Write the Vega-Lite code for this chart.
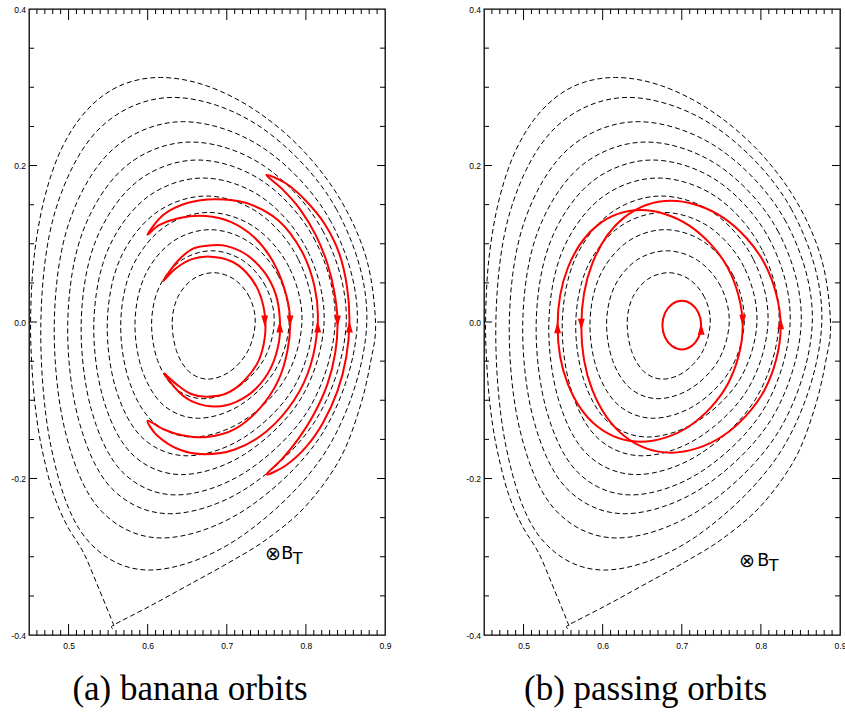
{
  "$schema": "https://vega.github.io/schema/vega-lite/v6.json",
  "background": "white",
  "padding": {"left": 10, "top": 4, "right": 0, "bottom": 0},
  "config": {
    "view": {"stroke": "black", "strokeWidth": 1.3},
    "axis": {"domain": false, "grid": false, "ticks": false, "labelFont": "Liberation Sans", "labelFontSize": 8.5, "labelColor": "black", "labelFlush": false, "tickCount": 1000}
  },
  "datasets": {
    "xmaj": [{"v":0.5},{"v":0.6},{"v":0.7},{"v":0.8}],
    "xmin": [{"v":0.46},{"v":0.47},{"v":0.48},{"v":0.49},{"v":0.51},{"v":0.52},{"v":0.53},{"v":0.54},{"v":0.55},{"v":0.56},{"v":0.57},{"v":0.58},{"v":0.59},{"v":0.61},{"v":0.62},{"v":0.63},{"v":0.64},{"v":0.65},{"v":0.66},{"v":0.67},{"v":0.68},{"v":0.69},{"v":0.71},{"v":0.72},{"v":0.73},{"v":0.74},{"v":0.75},{"v":0.76},{"v":0.77},{"v":0.78},{"v":0.79},{"v":0.81},{"v":0.82},{"v":0.83},{"v":0.84},{"v":0.85},{"v":0.86},{"v":0.87},{"v":0.88},{"v":0.89}],
    "ymaj": [{"v":-0.2},{"v":0},{"v":0.2}],
    "ymin": [{"v":-0.35},{"v":-0.3},{"v":-0.25},{"v":-0.15},{"v":-0.1},{"v":-0.05},{"v":0.05},{"v":0.1},{"v":0.15},{"v":0.25},{"v":0.3},{"v":0.35}],
    "contours": [
      {"c":1,"i":0,"x":0.736,"y":0},{"c":1,"i":1,"x":0.7288,"y":0.0315},{"c":1,"i":2,"x":0.7094,"y":0.0546},{"c":1,"i":3,"x":0.683,"y":0.063},{"c":1,"i":4,"x":0.6569,"y":0.0546},{"c":1,"i":5,"x":0.6379,"y":0.0315},{"c":1,"i":6,"x":0.631,"y":0},{"c":1,"i":7,"x":0.6363,"y":-0.0365},{"c":1,"i":8,"x":0.652,"y":-0.0632},{"c":1,"i":9,"x":0.6762,"y":-0.073},{"c":1,"i":10,"x":0.7041,"y":-0.0632},{"c":1,"i":11,"x":0.727,"y":-0.0365},
      {"c":2,"i":0,"x":0.76,"y":0},{"c":2,"i":1,"x":0.7492,"y":0.0455},{"c":2,"i":2,"x":0.7201,"y":0.0788},{"c":2,"i":3,"x":0.681,"y":0.091},{"c":2,"i":4,"x":0.6426,"y":0.0788},{"c":2,"i":5,"x":0.615,"y":0.0455},{"c":2,"i":6,"x":0.605,"y":0},{"c":2,"i":7,"x":0.6125,"y":-0.049},{"c":2,"i":8,"x":0.6349,"y":-0.0849},{"c":2,"i":9,"x":0.6702,"y":-0.098},{"c":2,"i":10,"x":0.7116,"y":-0.0849},{"c":2,"i":11,"x":0.7463,"y":-0.049},
      {"c":3,"i":0,"x":0.779,"y":0},{"c":3,"i":1,"x":0.7653,"y":0.059},{"c":3,"i":2,"x":0.7282,"y":0.1022},{"c":3,"i":3,"x":0.6789,"y":0.118},{"c":3,"i":4,"x":0.6308,"y":0.1022},{"c":3,"i":5,"x":0.5964,"y":0.059},{"c":3,"i":6,"x":0.584,"y":0},{"c":3,"i":7,"x":0.593,"y":-0.0615},{"c":3,"i":8,"x":0.6202,"y":-0.1065},{"c":3,"i":9,"x":0.664,"y":-0.123},{"c":3,"i":10,"x":0.7166,"y":-0.1065},{"c":3,"i":11,"x":0.7612,"y":-0.0615},
      {"c":4,"i":0,"x":0.795,"y":0},{"c":4,"i":1,"x":0.7788,"y":0.07},{"c":4,"i":2,"x":0.7351,"y":0.1212},{"c":4,"i":3,"x":0.6771,"y":0.14},{"c":4,"i":4,"x":0.6207,"y":0.1212},{"c":4,"i":5,"x":0.5805,"y":0.07},{"c":4,"i":6,"x":0.566,"y":0},{"c":4,"i":7,"x":0.576,"y":-0.0735},{"c":4,"i":8,"x":0.6065,"y":-0.1273},{"c":4,"i":9,"x":0.657,"y":-0.147},{"c":4,"i":10,"x":0.7191,"y":-0.1273},{"c":4,"i":11,"x":0.7732,"y":-0.0735},
      {"c":5,"i":0,"x":0.809,"y":0},{"c":5,"i":1,"x":0.7903,"y":0.0805},{"c":5,"i":2,"x":0.7402,"y":0.1394},{"c":5,"i":3,"x":0.6741,"y":0.161},{"c":5,"i":4,"x":0.6103,"y":0.1394},{"c":5,"i":5,"x":0.5651,"y":0.0805},{"c":5,"i":6,"x":0.549,"y":0},{"c":5,"i":7,"x":0.5598,"y":-0.0855},{"c":5,"i":8,"x":0.5934,"y":-0.1481},{"c":5,"i":9,"x":0.65,"y":-0.171},{"c":5,"i":10,"x":0.7209,"y":-0.1481},{"c":5,"i":11,"x":0.7836,"y":-0.0855},
      {"c":6,"i":0,"x":0.823,"y":0},{"c":6,"i":1,"x":0.8016,"y":0.092},{"c":6,"i":2,"x":0.7445,"y":0.1593},{"c":6,"i":3,"x":0.6699,"y":0.184},{"c":6,"i":4,"x":0.5991,"y":0.1593},{"c":6,"i":5,"x":0.5496,"y":0.092},{"c":6,"i":6,"x":0.532,"y":0},{"c":6,"i":7,"x":0.5437,"y":-0.0975},{"c":6,"i":8,"x":0.5803,"y":-0.1689},{"c":6,"i":9,"x":0.6429,"y":-0.195},{"c":6,"i":10,"x":0.7226,"y":-0.1689},{"c":6,"i":11,"x":0.7939,"y":-0.0975},
      {"c":7,"i":0,"x":0.837,"y":0},{"c":7,"i":1,"x":0.812,"y":0.1035},{"c":7,"i":2,"x":0.7464,"y":0.1793},{"c":7,"i":3,"x":0.663,"y":0.207},{"c":7,"i":4,"x":0.5864,"y":0.1793},{"c":7,"i":5,"x":0.5342,"y":0.1035},{"c":7,"i":6,"x":0.516,"y":0},{"c":7,"i":7,"x":0.5284,"y":-0.1105},{"c":7,"i":8,"x":0.5678,"y":-0.1914},{"c":7,"i":9,"x":0.636,"y":-0.221},{"c":7,"i":10,"x":0.7243,"y":-0.1914},{"c":7,"i":11,"x":0.8042,"y":-0.1105},
      {"c":8,"i":0,"x":0.851,"y":0},{"c":8,"i":1,"x":0.8222,"y":0.115},{"c":8,"i":2,"x":0.7475,"y":0.1992},{"c":8,"i":3,"x":0.655,"y":0.23},{"c":8,"i":4,"x":0.5725,"y":0.1992},{"c":8,"i":5,"x":0.5178,"y":0.115},{"c":8,"i":6,"x":0.499,"y":0},{"c":8,"i":7,"x":0.5121,"y":-0.1225},{"c":8,"i":8,"x":0.5541,"y":-0.2122},{"c":8,"i":9,"x":0.6281,"y":-0.245},{"c":8,"i":10,"x":0.7253,"y":-0.2122},{"c":8,"i":11,"x":0.8142,"y":-0.1225},
      {"c":9,"i":0,"x":0.865,"y":0},{"c":9,"i":1,"x":0.8317,"y":0.128},{"c":9,"i":2,"x":0.747,"y":0.2217},{"c":9,"i":3,"x":0.6449,"y":0.256},{"c":9,"i":4,"x":0.5571,"y":0.2217},{"c":9,"i":5,"x":0.5009,"y":0.128},{"c":9,"i":6,"x":0.482,"y":0},{"c":9,"i":7,"x":0.4954,"y":-0.138},{"c":9,"i":8,"x":0.5391,"y":-0.239},{"c":9,"i":9,"x":0.618,"y":-0.276},{"c":9,"i":10,"x":0.7244,"y":-0.239},{"c":9,"i":11,"x":0.8235,"y":-0.138},
      {"c":10,"i":0,"x":0.877,"y":0},{"c":10,"i":1,"x":0.8389,"y":0.1435},{"c":10,"i":2,"x":0.7436,"y":0.2485},{"c":10,"i":3,"x":0.6323,"y":0.287},{"c":10,"i":4,"x":0.5403,"y":0.2485},{"c":10,"i":5,"x":0.4837,"y":0.1435},{"c":10,"i":6,"x":0.465,"y":0},{"c":10,"i":7,"x":0.4777,"y":-0.1585},{"c":10,"i":8,"x":0.5204,"y":-0.2745},{"c":10,"i":9,"x":0.602,"y":-0.317},{"c":10,"i":10,"x":0.7175,"y":-0.2745},{"c":10,"i":11,"x":0.8293,"y":-0.1585},
      {"c":11,"i":0,"x":0.888,"y":0},{"c":11,"i":1,"x":0.8765,"y":0.0809},{"c":11,"i":2,"x":0.8437,"y":0.1563},{"c":11,"i":3,"x":0.7947,"y":0.221},{"c":11,"i":4,"x":0.736,"y":0.2706},{"c":11,"i":5,"x":0.6744,"y":0.3019},{"c":11,"i":6,"x":0.6161,"y":0.3125},{"c":11,"i":7,"x":0.5649,"y":0.3019},{"c":11,"i":8,"x":0.5231,"y":0.2706},{"c":11,"i":9,"x":0.4909,"y":0.221},{"c":11,"i":10,"x":0.4691,"y":0.1563},{"c":11,"i":11,"x":0.4562,"y":0.0809},{"c":11,"i":12,"x":0.452,"y":0},{"c":11,"i":13,"x":0.4545,"y":-0.07},{"c":11,"i":14,"x":0.46,"y":-0.125},{"c":11,"i":15,"x":0.468,"y":-0.17},{"c":11,"i":16,"x":0.481,"y":-0.22},{"c":11,"i":17,"x":0.498,"y":-0.26},{"c":11,"i":18,"x":0.519,"y":-0.295},{"c":11,"i":19,"x":0.538,"y":-0.34},{"c":11,"i":20,"x":0.557,"y":-0.387},{"c":11,"i":21,"x":0.557,"y":-0.387},{"c":11,"i":22,"x":0.603,"y":-0.363},{"c":11,"i":23,"x":0.65,"y":-0.337},{"c":11,"i":24,"x":0.7,"y":-0.309},{"c":11,"i":25,"x":0.75,"y":-0.278},{"c":11,"i":26,"x":0.8,"y":-0.235},{"c":11,"i":27,"x":0.843,"y":-0.175},{"c":11,"i":28,"x":0.868,"y":-0.11},{"c":11,"i":29,"x":0.882,"y":-0.05}
    ],
    "banana": [
      {"o":"A","i":0,"x":0.62,"y":0.053},{"o":"A","i":1,"x":0.635,"y":0.068},{"o":"A","i":2,"x":0.655,"y":0.08},{"o":"A","i":3,"x":0.679,"y":0.0835},{"o":"A","i":4,"x":0.705,"y":0.078},{"o":"A","i":5,"x":0.725,"y":0.063},{"o":"A","i":6,"x":0.74,"y":0.04},{"o":"A","i":7,"x":0.748,"y":0.01},{"o":"A","i":8,"x":0.748,"y":-0.02},{"o":"A","i":9,"x":0.74,"y":-0.05},{"o":"A","i":10,"x":0.722,"y":-0.075},{"o":"A","i":11,"x":0.7,"y":-0.091},{"o":"A","i":12,"x":0.675,"y":-0.0955},{"o":"A","i":13,"x":0.655,"y":-0.092},{"o":"A","i":14,"x":0.637,"y":-0.08},{"o":"A","i":15,"x":0.621,"y":-0.066},{"o":"A","i":16,"x":0.64,"y":-0.09},{"o":"A","i":17,"x":0.66,"y":-0.103},{"o":"A","i":18,"x":0.686,"y":-0.108},{"o":"A","i":19,"x":0.712,"y":-0.102},{"o":"A","i":20,"x":0.737,"y":-0.085},{"o":"A","i":21,"x":0.756,"y":-0.058},{"o":"A","i":22,"x":0.766,"y":-0.025},{"o":"A","i":23,"x":0.767,"y":0.005},{"o":"A","i":24,"x":0.762,"y":0.035},{"o":"A","i":25,"x":0.748,"y":0.063},{"o":"A","i":26,"x":0.725,"y":0.086},{"o":"A","i":27,"x":0.7,"y":0.097},{"o":"A","i":28,"x":0.681,"y":0.098},{"o":"A","i":29,"x":0.658,"y":0.094},{"o":"A","i":30,"x":0.638,"y":0.078},
      {"o":"B","i":0,"x":0.6,"y":0.112},{"o":"B","i":1,"x":0.615,"y":0.124},{"o":"B","i":2,"x":0.64,"y":0.133},{"o":"B","i":3,"x":0.673,"y":0.1355},{"o":"B","i":4,"x":0.705,"y":0.128},{"o":"B","i":5,"x":0.735,"y":0.108},{"o":"B","i":6,"x":0.758,"y":0.078},{"o":"B","i":7,"x":0.773,"y":0.042},{"o":"B","i":8,"x":0.78,"y":0.005},{"o":"B","i":9,"x":0.777,"y":-0.035},{"o":"B","i":10,"x":0.765,"y":-0.075},{"o":"B","i":11,"x":0.742,"y":-0.11},{"o":"B","i":12,"x":0.71,"y":-0.137},{"o":"B","i":13,"x":0.675,"y":-0.147},{"o":"B","i":14,"x":0.645,"y":-0.145},{"o":"B","i":15,"x":0.62,"y":-0.137},{"o":"B","i":16,"x":0.6,"y":-0.126},{"o":"B","i":17,"x":0.612,"y":-0.145},{"o":"B","i":18,"x":0.64,"y":-0.163},{"o":"B","i":19,"x":0.672,"y":-0.169},{"o":"B","i":20,"x":0.71,"y":-0.163},{"o":"B","i":21,"x":0.75,"y":-0.14},{"o":"B","i":22,"x":0.785,"y":-0.1},{"o":"B","i":23,"x":0.806,"y":-0.055},{"o":"B","i":24,"x":0.815,"y":0},{"o":"B","i":25,"x":0.811,"y":0.045},{"o":"B","i":26,"x":0.795,"y":0.09},{"o":"B","i":27,"x":0.765,"y":0.13},{"o":"B","i":28,"x":0.725,"y":0.152},{"o":"B","i":29,"x":0.685,"y":0.157},{"o":"B","i":30,"x":0.65,"y":0.152},{"o":"B","i":31,"x":0.62,"y":0.137},
      {"o":"C","i":0,"x":0.75,"y":0.188},{"o":"C","i":1,"x":0.77,"y":0.17},{"o":"C","i":2,"x":0.792,"y":0.145},{"o":"C","i":3,"x":0.812,"y":0.112},{"o":"C","i":4,"x":0.827,"y":0.075},{"o":"C","i":5,"x":0.836,"y":0.038},{"o":"C","i":6,"x":0.84,"y":0},{"o":"C","i":7,"x":0.837,"y":-0.04},{"o":"C","i":8,"x":0.827,"y":-0.08},{"o":"C","i":9,"x":0.81,"y":-0.118},{"o":"C","i":10,"x":0.79,"y":-0.15},{"o":"C","i":11,"x":0.77,"y":-0.175},{"o":"C","i":12,"x":0.75,"y":-0.195},{"o":"C","i":13,"x":0.775,"y":-0.183},{"o":"C","i":14,"x":0.8,"y":-0.16},{"o":"C","i":15,"x":0.822,"y":-0.128},{"o":"C","i":16,"x":0.84,"y":-0.088},{"o":"C","i":17,"x":0.851,"y":-0.045},{"o":"C","i":18,"x":0.855,"y":0},{"o":"C","i":19,"x":0.852,"y":0.045},{"o":"C","i":20,"x":0.842,"y":0.088},{"o":"C","i":21,"x":0.824,"y":0.125},{"o":"C","i":22,"x":0.8,"y":0.155},{"o":"C","i":23,"x":0.775,"y":0.177}
    ],
    "passing": [
      {"o":"P1","i":0,"x":0.777,"y":-0.005},{"o":"P1","i":1,"x":0.7583,"y":0.069},{"o":"P1","i":2,"x":0.7095,"y":0.1232},{"o":"P1","i":3,"x":0.6483,"y":0.143},{"o":"P1","i":4,"x":0.593,"y":0.1232},{"o":"P1","i":5,"x":0.5559,"y":0.069},{"o":"P1","i":6,"x":0.543,"y":-0.005},{"o":"P1","i":7,"x":0.5559,"y":-0.079},{"o":"P1","i":8,"x":0.593,"y":-0.1332},{"o":"P1","i":9,"x":0.6483,"y":-0.153},{"o":"P1","i":10,"x":0.7095,"y":-0.1332},{"o":"P1","i":11,"x":0.7583,"y":-0.079},
      {"o":"P2","i":0,"x":0.825,"y":-0.006},{"o":"P2","i":1,"x":0.8048,"y":0.0745},{"o":"P2","i":2,"x":0.7523,"y":0.1334},{"o":"P2","i":3,"x":0.6864,"y":0.155},{"o":"P2","i":4,"x":0.6269,"y":0.1334},{"o":"P2","i":5,"x":0.5868,"y":0.0745},{"o":"P2","i":6,"x":0.573,"y":-0.006},{"o":"P2","i":7,"x":0.5868,"y":-0.0865},{"o":"P2","i":8,"x":0.6269,"y":-0.1454},{"o":"P2","i":9,"x":0.6864,"y":-0.167},{"o":"P2","i":10,"x":0.7523,"y":-0.1454},{"o":"P2","i":11,"x":0.8048,"y":-0.0865},
      {"o":"P3","i":0,"x":0.7245,"y":-0.004},{"o":"P3","i":1,"x":0.7212,"y":0.0115},{"o":"P3","i":2,"x":0.7123,"y":0.0228},{"o":"P3","i":3,"x":0.7,"y":0.027},{"o":"P3","i":4,"x":0.6878,"y":0.0228},{"o":"P3","i":5,"x":0.6788,"y":0.0115},{"o":"P3","i":6,"x":0.6755,"y":-0.004},{"o":"P3","i":7,"x":0.6788,"y":-0.0195},{"o":"P3","i":8,"x":0.6878,"y":-0.0308},{"o":"P3","i":9,"x":0.7,"y":-0.035},{"o":"P3","i":10,"x":0.7123,"y":-0.0308},{"o":"P3","i":11,"x":0.7212,"y":-0.0195}
    ],
    "arrows_a": [
      {"x":0.748,"y":0.001,"dir":"down"},{"x":0.767,"y":-0.006,"dir":"up"},{"x":0.78,"y":0.001,"dir":"down"},{"x":0.815,"y":-0.006,"dir":"up"},{"x":0.84,"y":0.001,"dir":"down"},{"x":0.855,"y":-0.006,"dir":"up"}
    ],
    "arrows_b": [
      {"x":0.543,"y":-0.007,"dir":"up"},{"x":0.573,"y":-0.003,"dir":"down"},{"x":0.777,"y":0.002,"dir":"down"},{"x":0.825,"y":-0.002,"dir":"up"},{"x":0.7245,"y":-0.009,"dir":"up"}
    ],
    "label_a": [{"x":0.7482,"y":-0.297,"t":"⊗","part":"op"},{"x":0.769,"y":-0.297,"t":"B","part":"main"},{"x":0.7835,"y":-0.303,"t":"T","part":"sub"}],
    "label_b": [{"x":0.7722,"y":-0.306,"t":"⊗","part":"op"},{"x":0.7955,"y":-0.306,"t":"B","part":"main"},{"x":0.81,"y":-0.312,"t":"T","part":"sub"}]
  },
  "hconcat": [
    {
      "width": 356, "height": 626,
      "title": {"text": "(a) banana orbits", "orient": "bottom", "anchor": "middle", "frame": "group", "dx": -17, "offset": 22, "font": "Liberation Serif", "fontSize": 35, "fontWeight": "normal", "color": "black"},
      "resolve": {"axis": {"x": "independent", "y": "independent"}},
      "layer": [
        {"data": {"name": "contours"},
         "mark": {"type": "line", "interpolate": "cardinal-closed", "stroke": "black", "strokeWidth": 1, "strokeDash": [5, 3]},
         "encoding": {
           "x": {"field": "x", "type": "quantitative", "scale": {"domain": [0.45, 0.9], "nice": false, "zero": false}, "axis": {"orient": "bottom", "title": null, "values": [0.5, 0.6, 0.7, 0.8, 0.9], "format": ".1f", "ticks": false, "labelPadding": 6}},
           "y": {"field": "y", "type": "quantitative", "scale": {"domain": [-0.4, 0.4], "nice": false, "zero": false}, "axis": {"orient": "left", "title": null, "values": [-0.4, -0.2, 0, 0.2, 0.4], "labelExpr": "datum.value < 0 ? '-' + format(-datum.value, '.1f') : format(datum.value, '.1f')", "ticks": false, "labelPadding": 3.5}},
           "detail": {"field": "c", "type": "nominal"},
           "order": {"field": "i", "type": "quantitative"}
         }},
        {"data": {"name": "banana"},
         "mark": {"type": "line", "interpolate": "cardinal-closed", "stroke": "#ff0000", "strokeWidth": 2},
         "encoding": {
           "x": {"field": "x", "type": "quantitative", "scale": {"domain": [0.45, 0.9], "nice": false, "zero": false}, "axis": null},
           "y": {"field": "y", "type": "quantitative", "scale": {"domain": [-0.4, 0.4], "nice": false, "zero": false}, "axis": null},
           "detail": {"field": "o", "type": "nominal"},
           "order": {"field": "i", "type": "quantitative"}
         }},
        {"data": {"name": "arrows_a"},
         "mark": {"type": "point", "filled": true, "color": "#ff0000", "opacity": 1, "size": 130, "strokeWidth": 0},
         "encoding": {
           "x": {"field": "x", "type": "quantitative", "scale": {"domain": [0.45, 0.9], "nice": false, "zero": false}, "axis": null},
           "y": {"field": "y", "type": "quantitative", "scale": {"domain": [-0.4, 0.4], "nice": false, "zero": false}, "axis": null},
           "shape": {"field": "dir", "type": "nominal", "scale": {"domain": ["up", "down"], "range": ["M-0.6,1L0.6,1L0,-1Z", "M-0.6,-1L0.6,-1L0,1Z"]}, "legend": null}
         }},
        {"data": {"name": "label_a"},
         "mark": {"type": "text", "font": "DejaVu Sans", "align": "left", "baseline": "middle", "color": "black"},
         "encoding": {
           "x": {"field": "x", "type": "quantitative", "scale": {"domain": [0.45, 0.9], "nice": false, "zero": false}, "axis": null},
           "y": {"field": "y", "type": "quantitative", "scale": {"domain": [-0.4, 0.4], "nice": false, "zero": false}, "axis": null},
           "text": {"field": "t", "type": "nominal"},
           "size": {"field": "part", "type": "ordinal", "scale": {"domain": ["op", "main", "sub"], "range": [19, 16, 9]}, "legend": null}
         }},
        {"data": {"name": "xmaj"}, "mark": {"type": "tick", "orient": "vertical", "size": 11, "thickness": 1, "color": "black", "opacity": 1},
         "encoding": {"x": {"field": "v", "type": "quantitative", "scale": {"domain": [0.45, 0.9], "nice": false, "zero": false}, "axis": null}, "y": {"datum": -0.39297, "type": "quantitative", "scale": {"domain": [-0.4, 0.4], "nice": false, "zero": false}, "axis": null}}},
        {"data": {"name": "xmaj"}, "mark": {"type": "tick", "orient": "vertical", "size": 11, "thickness": 1, "color": "black", "opacity": 1},
         "encoding": {"x": {"field": "v", "type": "quantitative", "scale": {"domain": [0.45, 0.9], "nice": false, "zero": false}, "axis": null}, "y": {"datum": 0.39297, "type": "quantitative", "scale": {"domain": [-0.4, 0.4], "nice": false, "zero": false}, "axis": null}}},
        {"data": {"name": "xmin"}, "mark": {"type": "tick", "orient": "vertical", "size": 5, "thickness": 1, "color": "black", "opacity": 1},
         "encoding": {"x": {"field": "v", "type": "quantitative", "scale": {"domain": [0.45, 0.9], "nice": false, "zero": false}, "axis": null}, "y": {"datum": -0.3968, "type": "quantitative", "scale": {"domain": [-0.4, 0.4], "nice": false, "zero": false}, "axis": null}}},
        {"data": {"name": "xmin"}, "mark": {"type": "tick", "orient": "vertical", "size": 5, "thickness": 1, "color": "black", "opacity": 1},
         "encoding": {"x": {"field": "v", "type": "quantitative", "scale": {"domain": [0.45, 0.9], "nice": false, "zero": false}, "axis": null}, "y": {"datum": 0.3968, "type": "quantitative", "scale": {"domain": [-0.4, 0.4], "nice": false, "zero": false}, "axis": null}}},
        {"data": {"name": "ymaj"}, "mark": {"type": "tick", "orient": "horizontal", "size": 8, "thickness": 1, "color": "black", "opacity": 1},
         "encoding": {"y": {"field": "v", "type": "quantitative", "scale": {"domain": [-0.4, 0.4], "nice": false, "zero": false}, "axis": null}, "x": {"datum": 0.45505, "type": "quantitative", "scale": {"domain": [0.45, 0.9], "nice": false, "zero": false}, "axis": null}}},
        {"data": {"name": "ymaj"}, "mark": {"type": "tick", "orient": "horizontal", "size": 8, "thickness": 1, "color": "black", "opacity": 1},
         "encoding": {"y": {"field": "v", "type": "quantitative", "scale": {"domain": [-0.4, 0.4], "nice": false, "zero": false}, "axis": null}, "x": {"datum": 0.89495, "type": "quantitative", "scale": {"domain": [0.45, 0.9], "nice": false, "zero": false}, "axis": null}}},
        {"data": {"name": "ymin"}, "mark": {"type": "tick", "orient": "horizontal", "size": 5, "thickness": 1, "color": "black", "opacity": 1},
         "encoding": {"y": {"field": "v", "type": "quantitative", "scale": {"domain": [-0.4, 0.4], "nice": false, "zero": false}, "axis": null}, "x": {"datum": 0.45316, "type": "quantitative", "scale": {"domain": [0.45, 0.9], "nice": false, "zero": false}, "axis": null}}},
        {"data": {"name": "ymin"}, "mark": {"type": "tick", "orient": "horizontal", "size": 5, "thickness": 1, "color": "black", "opacity": 1},
         "encoding": {"y": {"field": "v", "type": "quantitative", "scale": {"domain": [-0.4, 0.4], "nice": false, "zero": false}, "axis": null}, "x": {"datum": 0.89684, "type": "quantitative", "scale": {"domain": [0.45, 0.9], "nice": false, "zero": false}, "axis": null}}}
      ]
    },
    {
      "width": 356, "height": 626,
      "title": {"text": "(b) passing orbits", "orient": "bottom", "anchor": "middle", "frame": "group", "dx": -16.5, "offset": 22, "font": "Liberation Serif", "fontSize": 35, "fontWeight": "normal", "color": "black"},
      "resolve": {"axis": {"x": "independent", "y": "independent"}},
      "layer": [
        {"data": {"name": "contours"},
         "mark": {"type": "line", "interpolate": "cardinal-closed", "stroke": "black", "strokeWidth": 1, "strokeDash": [5, 3]},
         "encoding": {
           "x": {"field": "x", "type": "quantitative", "scale": {"domain": [0.45, 0.9], "nice": false, "zero": false}, "axis": {"orient": "bottom", "title": null, "values": [0.5, 0.6, 0.7, 0.8, 0.9], "format": ".1f", "ticks": false, "labelPadding": 6}},
           "y": {"field": "y", "type": "quantitative", "scale": {"domain": [-0.4, 0.4], "nice": false, "zero": false}, "axis": {"orient": "left", "title": null, "values": [-0.4, -0.2, 0, 0.2, 0.4], "labelExpr": "datum.value < 0 ? '-' + format(-datum.value, '.1f') : format(datum.value, '.1f')", "ticks": false, "labelPadding": 3.5}},
           "detail": {"field": "c", "type": "nominal"},
           "order": {"field": "i", "type": "quantitative"}
         }},
        {"data": {"name": "passing"},
         "mark": {"type": "line", "interpolate": "cardinal-closed", "stroke": "#ff0000", "strokeWidth": 2},
         "encoding": {
           "x": {"field": "x", "type": "quantitative", "scale": {"domain": [0.45, 0.9], "nice": false, "zero": false}, "axis": null},
           "y": {"field": "y", "type": "quantitative", "scale": {"domain": [-0.4, 0.4], "nice": false, "zero": false}, "axis": null},
           "detail": {"field": "o", "type": "nominal"},
           "order": {"field": "i", "type": "quantitative"}
         }},
        {"data": {"name": "arrows_b"},
         "mark": {"type": "point", "filled": true, "color": "#ff0000", "opacity": 1, "size": 130, "strokeWidth": 0},
         "encoding": {
           "x": {"field": "x", "type": "quantitative", "scale": {"domain": [0.45, 0.9], "nice": false, "zero": false}, "axis": null},
           "y": {"field": "y", "type": "quantitative", "scale": {"domain": [-0.4, 0.4], "nice": false, "zero": false}, "axis": null},
           "shape": {"field": "dir", "type": "nominal", "scale": {"domain": ["up", "down"], "range": ["M-0.6,1L0.6,1L0,-1Z", "M-0.6,-1L0.6,-1L0,1Z"]}, "legend": null}
         }},
        {"data": {"name": "label_b"},
         "mark": {"type": "text", "font": "DejaVu Sans", "align": "left", "baseline": "middle", "color": "black"},
         "encoding": {
           "x": {"field": "x", "type": "quantitative", "scale": {"domain": [0.45, 0.9], "nice": false, "zero": false}, "axis": null},
           "y": {"field": "y", "type": "quantitative", "scale": {"domain": [-0.4, 0.4], "nice": false, "zero": false}, "axis": null},
           "text": {"field": "t", "type": "nominal"},
           "size": {"field": "part", "type": "ordinal", "scale": {"domain": ["op", "main", "sub"], "range": [19, 16, 9]}, "legend": null}
         }},
        {"data": {"name": "xmaj"}, "mark": {"type": "tick", "orient": "vertical", "size": 11, "thickness": 1, "color": "black", "opacity": 1},
         "encoding": {"x": {"field": "v", "type": "quantitative", "scale": {"domain": [0.45, 0.9], "nice": false, "zero": false}, "axis": null}, "y": {"datum": -0.39297, "type": "quantitative", "scale": {"domain": [-0.4, 0.4], "nice": false, "zero": false}, "axis": null}}},
        {"data": {"name": "xmaj"}, "mark": {"type": "tick", "orient": "vertical", "size": 11, "thickness": 1, "color": "black", "opacity": 1},
         "encoding": {"x": {"field": "v", "type": "quantitative", "scale": {"domain": [0.45, 0.9], "nice": false, "zero": false}, "axis": null}, "y": {"datum": 0.39297, "type": "quantitative", "scale": {"domain": [-0.4, 0.4], "nice": false, "zero": false}, "axis": null}}},
        {"data": {"name": "xmin"}, "mark": {"type": "tick", "orient": "vertical", "size": 5, "thickness": 1, "color": "black", "opacity": 1},
         "encoding": {"x": {"field": "v", "type": "quantitative", "scale": {"domain": [0.45, 0.9], "nice": false, "zero": false}, "axis": null}, "y": {"datum": -0.3968, "type": "quantitative", "scale": {"domain": [-0.4, 0.4], "nice": false, "zero": false}, "axis": null}}},
        {"data": {"name": "xmin"}, "mark": {"type": "tick", "orient": "vertical", "size": 5, "thickness": 1, "color": "black", "opacity": 1},
         "encoding": {"x": {"field": "v", "type": "quantitative", "scale": {"domain": [0.45, 0.9], "nice": false, "zero": false}, "axis": null}, "y": {"datum": 0.3968, "type": "quantitative", "scale": {"domain": [-0.4, 0.4], "nice": false, "zero": false}, "axis": null}}},
        {"data": {"name": "ymaj"}, "mark": {"type": "tick", "orient": "horizontal", "size": 8, "thickness": 1, "color": "black", "opacity": 1},
         "encoding": {"y": {"field": "v", "type": "quantitative", "scale": {"domain": [-0.4, 0.4], "nice": false, "zero": false}, "axis": null}, "x": {"datum": 0.45505, "type": "quantitative", "scale": {"domain": [0.45, 0.9], "nice": false, "zero": false}, "axis": null}}},
        {"data": {"name": "ymaj"}, "mark": {"type": "tick", "orient": "horizontal", "size": 8, "thickness": 1, "color": "black", "opacity": 1},
         "encoding": {"y": {"field": "v", "type": "quantitative", "scale": {"domain": [-0.4, 0.4], "nice": false, "zero": false}, "axis": null}, "x": {"datum": 0.89495, "type": "quantitative", "scale": {"domain": [0.45, 0.9], "nice": false, "zero": false}, "axis": null}}},
        {"data": {"name": "ymin"}, "mark": {"type": "tick", "orient": "horizontal", "size": 5, "thickness": 1, "color": "black", "opacity": 1},
         "encoding": {"y": {"field": "v", "type": "quantitative", "scale": {"domain": [-0.4, 0.4], "nice": false, "zero": false}, "axis": null}, "x": {"datum": 0.45316, "type": "quantitative", "scale": {"domain": [0.45, 0.9], "nice": false, "zero": false}, "axis": null}}},
        {"data": {"name": "ymin"}, "mark": {"type": "tick", "orient": "horizontal", "size": 5, "thickness": 1, "color": "black", "opacity": 1},
         "encoding": {"y": {"field": "v", "type": "quantitative", "scale": {"domain": [-0.4, 0.4], "nice": false, "zero": false}, "axis": null}, "x": {"datum": 0.89684, "type": "quantitative", "scale": {"domain": [0.45, 0.9], "nice": false, "zero": false}, "axis": null}}}
      ]
    }
  ],
  "spacing": 73
}
